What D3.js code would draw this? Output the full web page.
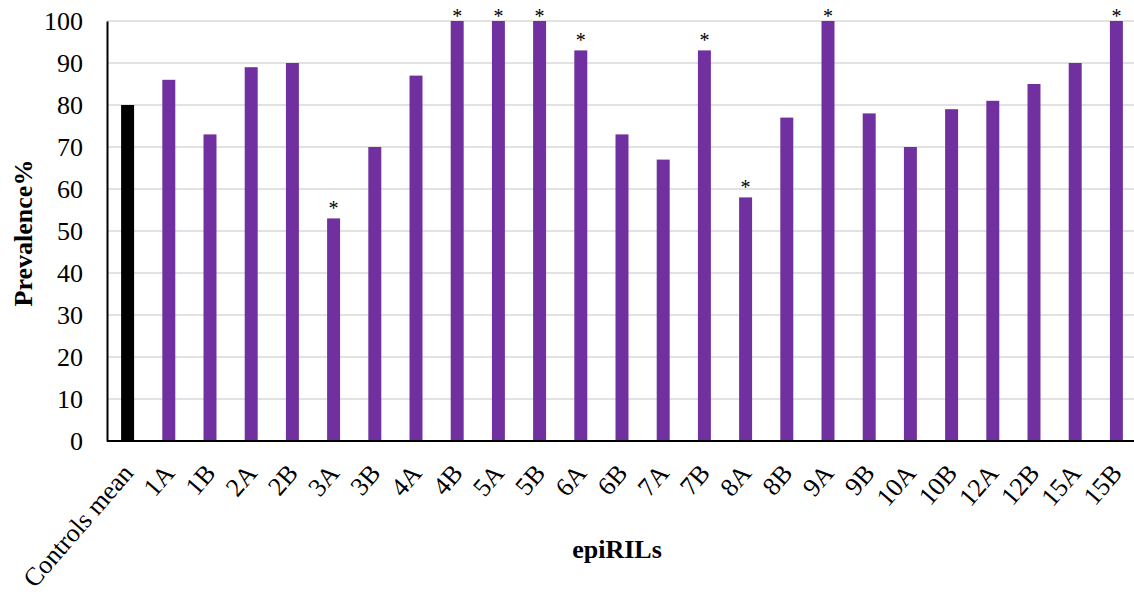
<!DOCTYPE html>
<html>
<head>
<meta charset="utf-8">
<script src="https://cdn.jsdelivr.net/npm/d3@7"></script>
<style>
  html, body { margin: 0; padding: 0; background: #fff; }
  svg { display: block; }
</style>
</head>
<body>
<div id="chart"></div>
<script>
// Prevalence (%) per epiRIL, with the controls mean as reference bar
const categories = ["Controls mean", "1A", "1B", "2A", "2B", "3A", "3B", "4A", "4B", "5A", "5B",
  "6A", "6B", "7A", "7B", "8A", "8B", "9A", "9B", "10A", "10B", "12A", "12B", "15A", "15B"];
const prevalence = [80, 86, 73, 89, 90, 53, 70, 87, 100, 100, 100,
  93, 73, 67, 93, 58, 77, 100, 78, 70, 79, 81, 85, 90, 100];
// lines marked as significantly different from the controls
const significant = ["3A", "4B", "5A", "5B", "6A", "7B", "8A", "9A", "15B"];
const yTicks = [0, 10, 20, 30, 40, 50, 60, 70, 80, 90, 100];

const W = 1134, H = 594;
const margin = { left: 107, top: 21, bottom: 153 };
const plotBottom = H - margin.bottom;
const serif = "'Liberation Serif', 'Times New Roman', serif";
const fontSize = 26;

const svg = d3.select("#chart").append("svg")
  .attr("width", W).attr("height", H)
  .style("font-family", serif);

const x = d3.scaleBand().domain(categories)
  .range([margin.left, margin.left + 41.2 * categories.length])
  .paddingInner(0.685).paddingOuter(0.3425);
const y = d3.scaleLinear().domain([0, 100]).range([plotBottom, margin.top]);

// horizontal gridlines
svg.append("g").selectAll("line").data(yTicks.slice(1)).join("line")
  .attr("x1", margin.left).attr("x2", W)
  .attr("y1", d => y(d)).attr("y2", d => y(d))
  .attr("stroke", "#d9d9d9").attr("stroke-width", 1.5);

// bars
svg.append("g").selectAll("rect").data(categories).join("rect")
  .attr("x", d => x(d))
  .attr("width", x.bandwidth())
  .attr("y", (d, i) => y(prevalence[i]))
  .attr("height", (d, i) => plotBottom - y(prevalence[i]))
  .attr("fill", (d, i) => i === 0 ? "#000000" : "#7030a0");

// significance stars, kept inside the plot area at the top
svg.append("g").selectAll("text").data(categories.filter(c => significant.includes(c))).join("text")
  .attr("x", d => x(d) + x.bandwidth() / 2)
  .attr("y", d => Math.max(y(prevalence[categories.indexOf(d)]) - 13, 13) + 9.5)
  .attr("text-anchor", "middle")
  .attr("font-size", 20)
  .text("*");

// y axis
const yAxis = svg.append("g").attr("transform", `translate(${margin.left},0)`)
  .call(d3.axisLeft(y).tickValues(yTicks).tickSize(0).tickPadding(24));
yAxis.select(".domain").attr("stroke", "#000").attr("stroke-width", 2);
yAxis.selectAll("text").attr("font-size", fontSize).attr("fill", "#000")
  .style("font-family", serif);

// x axis
const xAxis = svg.append("g").attr("transform", `translate(0,${plotBottom})`)
  .call(d3.axisBottom(x).tickSize(0).tickPadding(0));
xAxis.select(".domain").attr("d", `M${margin.left},0H${W}`)
  .attr("stroke", "#000").attr("stroke-width", 2);
xAxis.selectAll("text")
  .attr("font-size", fontSize).attr("fill", "#000")
  .style("font-family", serif)
  .attr("text-anchor", "end")
  .attr("dy", null).attr("y", 0)
  .attr("transform", "translate(7,33) rotate(-49)");

// axis titles
svg.append("text")
  .attr("transform", `translate(32,233) rotate(-90)`)
  .attr("text-anchor", "middle")
  .attr("font-size", fontSize).attr("font-weight", "bold")
  .text("Prevalence%");

svg.append("text")
  .attr("x", 617).attr("y", 558)
  .attr("text-anchor", "middle")
  .attr("font-size", fontSize).attr("font-weight", "bold")
  .text("epiRILs");
</script>
</body>
</html>
